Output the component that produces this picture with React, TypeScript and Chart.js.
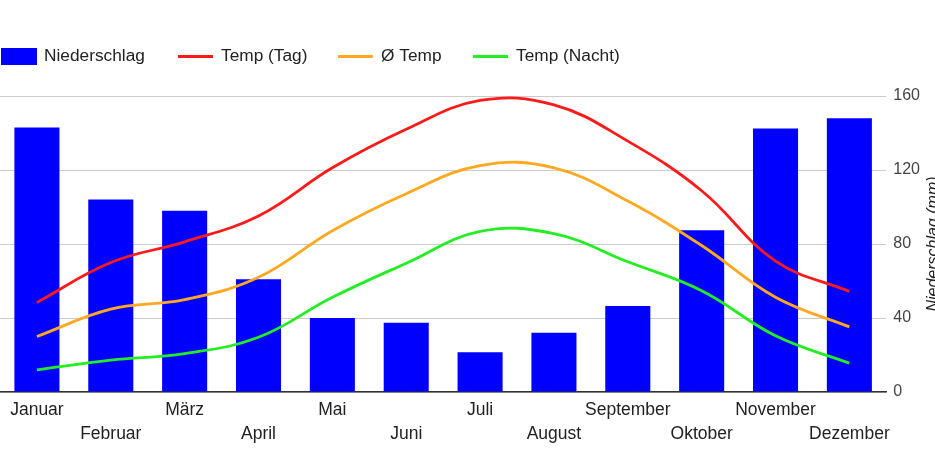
import React, { useEffect, useRef } from "react";
import { Chart, registerables } from "chart.js";

Chart.register(...registerables);

const months = ["Januar", "Februar", "März", "April", "Mai", "Juni", "Juli", "August", "September", "Oktober", "November", "Dezember"];
const niederschlag = [143, 104, 98, 61, 40, 37.5, 21.5, 32, 46.5, 87.5, 142.5, 148];
const tempTag = [12.1, 17.5, 20.3, 23.8, 30.3, 35.5, 39.4, 38.8, 33.9, 27.2, 17.7, 13.6];
const tempAvg = [7.5, 11.2, 12.5, 15.5, 21.8, 26.8, 30.6, 30.3, 25.8, 19.8, 12.8, 8.8];
const tempNacht = [3.0, 4.3, 5.2, 7.4, 12.8, 17.4, 21.7, 21.4, 17.6, 13.7, 7.6, 3.9];
const precipTicks = [0, 40, 80, 120, 160];

const FONT = '"Liberation Sans", Arial, sans-serif';

const legendItems = [
  { label: "Niederschlag", color: "#0000ff", kind: "box", x: 1 },
  { label: "Temp (Tag)", color: "#ff1a1a", kind: "line", x: 178 },
  { label: "Ø Temp", color: "#ffa820", kind: "line", x: 338 },
  { label: "Temp (Nacht)", color: "#22ee22", kind: "line", x: 473 },
];

const customDecor = {
  id: "customDecor",
  afterDraw(chart: any) {
    const ctx = chart.ctx;
    ctx.save();
    ctx.font = `17.3px ${FONT}`;
    ctx.textBaseline = "middle";
    const cy = 56.5;
    legendItems.forEach((it) => {
      if (it.kind === "box") {
        ctx.fillStyle = it.color;
        ctx.fillRect(it.x, 48, 36, 17);
      } else {
        ctx.strokeStyle = it.color;
        ctx.lineWidth = 2.8;
        ctx.beginPath();
        ctx.moveTo(it.x, cy);
        ctx.lineTo(it.x + 35, cy);
        ctx.stroke();
      }
      ctx.fillStyle = "#222";
      ctx.textAlign = "left";
      ctx.fillText(it.label, it.x + 43, cy);
    });
    // right axis title, rotated counter-clockwise
    const area = chart.chartArea;
    ctx.translate(938, (area.top + area.bottom) / 2);
    ctx.rotate(-Math.PI / 2);
    ctx.font = `italic 16px ${FONT}`;
    ctx.fillStyle = "#222";
    ctx.textAlign = "center";
    ctx.textBaseline = "alphabetic";
    ctx.fillText("Niederschlag (mm)", 0, 0);
    ctx.restore();
  },
};

export default function App() {
  const ref = useRef<HTMLCanvasElement>(null);
  useEffect(() => {
    if (!ref.current) return;
    const labels = months.map((m, i) => (i % 2 === 0 ? [m, ""] : ["", m]));
    const lineDs = (label: string, data: number[], color: string, order: number) => ({
      type: "line" as const,
      label,
      data,
      borderColor: color,
      borderWidth: 2.8,
      pointRadius: 0,
      tension: 0.4,
      yAxisID: "yT",
      order,
    });
    const chart = new Chart(ref.current, {
      type: "bar",
      data: {
        labels,
        datasets: [
          lineDs("Temp (Tag)", tempTag, "#ff1a1a", 1),
          lineDs("Ø Temp", tempAvg, "#ffa820", 2),
          lineDs("Temp (Nacht)", tempNacht, "#22ee22", 3),
          {
            type: "bar",
            label: "Niederschlag",
            data: niederschlag,
            backgroundColor: "#0000ff",
            borderWidth: 0,
            categoryPercentage: 1,
            barPercentage: 0.61,
            yAxisID: "yP",
            order: 10,
          },
        ],
      },
      options: {
        animation: false,
        responsive: true,
        maintainAspectRatio: false,
        layout: { padding: { top: 96, right: 8, bottom: 24, left: 0 } },
        plugins: { legend: { display: false }, tooltip: { enabled: false } },
        scales: {
          x: {
            offset: true,
            grid: { display: false, drawTicks: false },
            border: { display: true, color: "#333", width: 1.5 },
            ticks: {
              autoSkip: false,
              maxRotation: 0,
              minRotation: 0,
              padding: 6,
              color: "#222",
              font: { family: FONT, size: 17.5, lineHeight: 1.37 },
            },
          },
          yP: {
            position: "right",
            min: 0,
            max: 160,
            afterBuildTicks: (axis: any) => {
              axis.ticks = precipTicks.map((v) => ({ value: v }));
            },
            grid: { color: "#cccccc", lineWidth: 1, drawTicks: false },
            border: { display: false },
            ticks: {
              padding: 7,
              color: "#444",
              font: { family: FONT, size: 16 },
            },
          },
          yT: {
            display: false,
            position: "left",
            min: 0,
            max: 40,
          },
        },
      },
      plugins: [customDecor],
    });
    return () => chart.destroy();
  }, []);
  return (
    <div style={{ position: "fixed", left: 0, top: 0, width: 935, height: 476, background: "#fff" }}>
      <canvas ref={ref} />
    </div>
  );
}
